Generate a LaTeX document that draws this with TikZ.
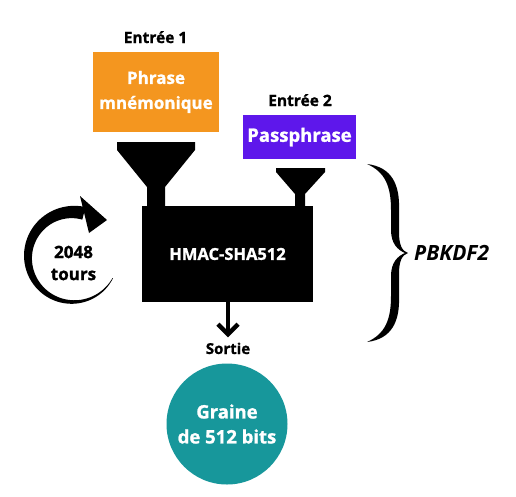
\documentclass[tikz,border=0pt]{standalone}
\usepackage{fontspec}
\setmainfont{Open Sans}[BoldFeatures={FakeBold=1.2}]
\usetikzlibrary{arrows.meta}
\definecolor{phraseorange}{HTML}{F4961F}
\definecolor{passpurple}{HTML}{5E17EB}
\definecolor{seedteal}{HTML}{17979B}
\begin{document}
\begin{tikzpicture}[x=1pt,y=-1pt,
  lbl/.style={font=\bfseries\fontsize{15.5}{18}\selectfont, text=black, inner sep=0pt, anchor=base},
  inbox/.style={font=\bfseries\fontsize{17}{25}\selectfont, text=white, inner sep=0pt, align=center},
  outarrow/.style={line width=4.5pt, -{Straight Barb[length=10pt,width=20pt]}}]
\useasboundingbox (0,0) rectangle (516,496);
\fill[white] (0,0) rectangle (516,496);

% inputs
\node[lbl] (in1) at (155.5,43) {Entrée 1};
\node[inbox, fill=phraseorange, minimum width=126pt, minimum height=80pt] (phrase) at (156,92) {Phrase\\mnémonique};
\node[lbl] (in2) at (300,106) {Entrée 2};
\node[inbox, font=\bfseries\fontsize{18.5}{22}\selectfont, fill=passpurple, minimum width=113pt, minimum height=44pt] (pass) at (299.5,137) {Passphrase};

% funnels
\fill[black] (117,142) -- (195,142) -- (195,150) -- (165,187) -- (165,207)
  -- (147,207) -- (147,187) -- (117,150) -- cycle;
\fill[black] (276,168) -- (325,168) -- (325,172) -- (305,194) -- (305,207)
  -- (295,207) -- (295,194) -- (276,172) -- cycle;

% hash box
\node[inbox, font=\bfseries\fontsize{16.5}{18}\selectfont, fill=black, minimum width=171pt, minimum height=96pt] (hmac) at (227.5,254) {HMAC-SHA512};

% output
\node[lbl, font=\bfseries\fontsize{15}{18}\selectfont] (sortie) at (228,354) {Sortie};
\draw[outarrow] (hmac.south -| sortie.north) -- ([yshift=5pt]sortie.north);
\node[inbox, fill=seedteal, circle, minimum size=121pt, font=\bfseries\fontsize{18.5}{25}\selectfont] (seed) at (227,424) {Graine\\de 512 bits};

% iteration loop: tapered circular arrow
\node[inbox, text=black, font=\bfseries\fontsize{17}{22}\selectfont] (loop) at (73.5,263) {2048\\tours};
\fill[black] plot[domain=28:284, samples=80]
    ({73+(45+(0.5+12.5*(\x-28)/256)/2)*cos(\x)}, {257+(45+(0.5+12.5*(\x-28)/256)/2)*sin(\x)})
  -- plot[domain=284:28, samples=80]
    ({73+(45-(0.5+12.5*(\x-28)/256)/2)*cos(\x)}, {257+(45-(0.5+12.5*(\x-28)/256)/2)*sin(\x)})
  -- cycle;
\fill[black] (80,196) -- (107,220) -- (89,233) -- cycle;

% brace
\fill[black] (367,164) .. controls (392,167) and (400,185) .. (399,210)
  -- (399,232) .. controls (399,245) and (402,251) .. (408,253)
  .. controls (402,255) and (399,261) .. (399,274)
  -- (399,296) .. controls (400,321) and (392,339) .. (367,342)
  .. controls (385,334) and (391,320) .. (391,296)
  -- (391,276) .. controls (391,262) and (398,256) .. (405,253)
  .. controls (398,250) and (391,244) .. (391,230)
  -- (391,210) .. controls (391,186) and (385,172) .. (367,164) -- cycle;
\node[lbl, font=\bfseries\itshape\fontsize{21}{24}\selectfont, anchor=base west] (pbkdf) at (414,260) {PBKDF2};
\end{tikzpicture}
\end{document}
